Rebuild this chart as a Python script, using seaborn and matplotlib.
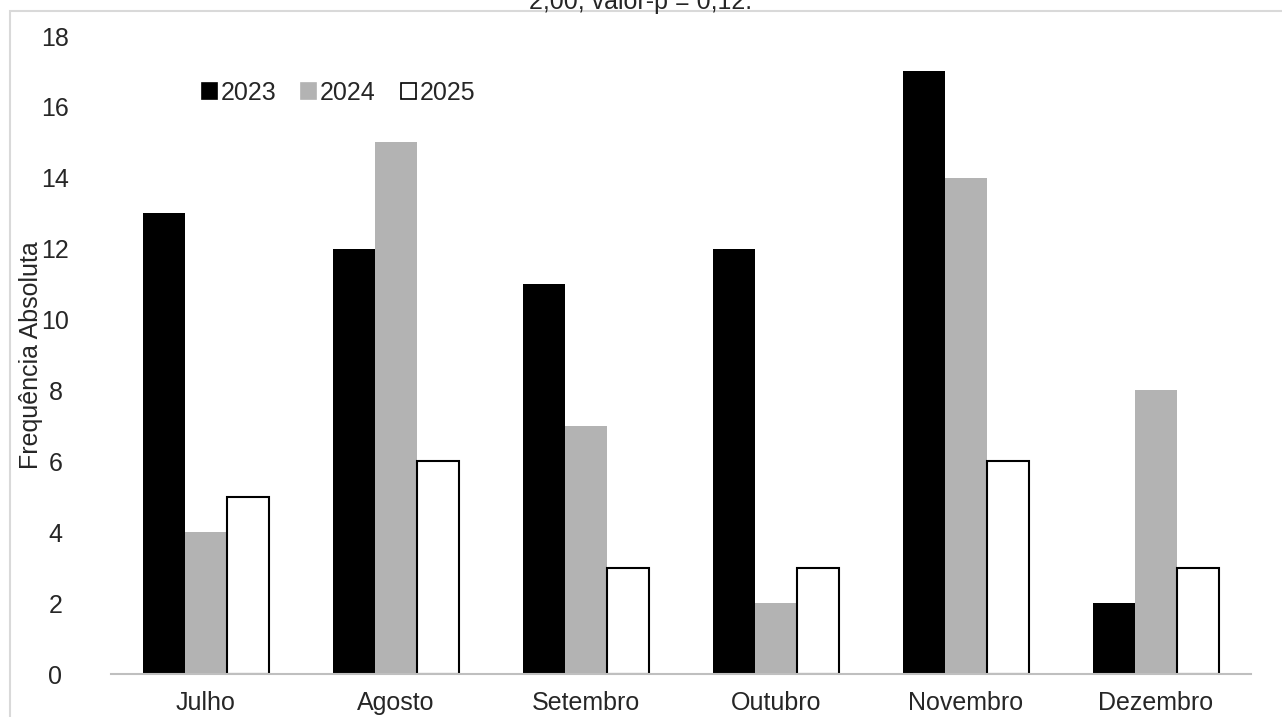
import pandas as pd
import matplotlib
matplotlib.use("Agg")
import matplotlib.pyplot as plt
from matplotlib.patches import Rectangle
import seaborn as sns

# Data
meses = ["Julho", "Agosto", "Setembro", "Outubro", "Novembro", "Dezembro"]
anos = ["2023", "2024", "2025"]
freq_2023 = [13, 12, 11, 12, 17, 2]
freq_2024 = [4, 15, 7, 2, 14, 8]
freq_2025 = [5, 6, 3, 3, 6, 3]
yticks = [0, 2, 4, 6, 8, 10, 12, 14, 16, 18]

df = pd.DataFrame({
    "Mes": meses * 3,
    "Ano": [a for a in anos for _ in meses],
    "Freq": freq_2023 + freq_2024 + freq_2025,
})

sns.set_style("white")
plt.rcParams["font.family"] = ["Liberation Sans", "DejaVu Sans"]
FS = 18

cores = {"2023": "#000000", "2024": "#b3b3b3", "2025": "#ffffff"}

fig = plt.figure(figsize=(12.82, 7.17), dpi=100)
ax = fig.add_axes([111 / 1282, 1 - 674 / 717, 1140 / 1282, 638 / 717])

sns.barplot(data=df, x="Mes", y="Freq", hue="Ano", palette=cores,
            width=0.663, saturation=1, ax=ax, legend=False)

# white bars get a black outline
for patch in ax.containers[2]:
    patch.set_edgecolor("black")
    patch.set_linewidth(1.5)
for c in ax.containers[:2]:
    for patch in c:
        patch.set_edgecolor("none")

ax.set_ylim(0, 18)
ax.set_xlim(-0.5, 5.5)
ax.set_yticks(yticks)
ax.tick_params(axis="both", labelsize=FS, length=0)
ax.tick_params(axis="x", pad=12)
ax.tick_params(axis="y", pad=40)
ax.set_xlabel("")
ax.set_ylabel("Frequência Absoluta", fontsize=FS)
ax.yaxis.set_label_coords(-0.060, 0.5)
for side in ["top", "right", "left"]:
    ax.spines[side].set_visible(False)
ax.spines["bottom"].set_color("#bfbfbf")
ax.spines["bottom"].set_linewidth(1.5)
ax.spines["bottom"].set_zorder(5)
ax.set_facecolor("none")
for lbl in ax.get_yticklabels():
    lbl.set_horizontalalignment("center")

# legend
handles = [Rectangle((0, 0), 1, 1, facecolor=cores[a],
                     edgecolor="black" if a == "2025" else cores[a], linewidth=1.2)
           for a in anos]
ax.legend(handles, anos, loc="upper left", bbox_to_anchor=(0.06, 0.965), ncol=3,
          frameon=False, fontsize=FS, handlelength=0.6, handleheight=0.6,
          handletextpad=0.15, columnspacing=1.0)

# chart area border (light gray)
fig.patches.append(Rectangle((10 / 1282, -0.05), 1.2, 1 - 11 / 717 + 0.05,
                             transform=fig.transFigure, fill=False,
                             edgecolor="#d9d9d9", linewidth=1.5, zorder=0))

# title text, cut off at the top edge as in the original
fig.text(0.5, 1 - 2 / 717, "2,00; valor-p = 0,12.", ha="center", va="center",
         fontsize=FS)

fig.savefig("out.png", dpi=100)
